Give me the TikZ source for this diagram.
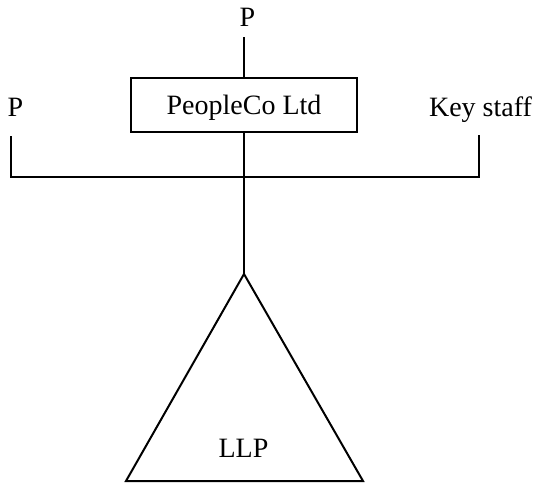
\documentclass[tikz,border=0pt]{standalone}
\usepackage{fontspec}
\setmainfont{Liberation Serif}
\begin{document}
\begin{tikzpicture}[x=1pt,y=-1pt,line width=2pt,
  lbl/.style={font=\fontsize{28}{30}\selectfont,inner sep=0pt,text depth=0pt,anchor=base},
  boxstyle/.style={draw,font=\fontsize{28}{30}\selectfont,inner sep=0pt,
    minimum width=226pt,minimum height=54pt,text height=18.5pt,text depth=0pt}]
\useasboundingbox (0,0) rectangle (537,484);
% labels
\node[lbl] (tp) at (247.5,27) {P};
\node[lbl] (lp) at (15.5,117) {P};
\node[lbl] (ks) at (480.5,116) {Key staff};
\node[boxstyle] (box) at (244,105) {PeopleCo Ltd};
% triangle
\coordinate (apex) at (244,274);
\coordinate (tl) at (126,481);
\coordinate (tr) at (363,481);
\draw (apex) -- (tl) -- (tr) -- cycle;
\node[lbl] (llp) at (243.5,457) {LLP};
% bar
\coordinate (bl) at (11,177);
\coordinate (br) at (479,177);
\draw[shorten >=9pt] (box.north) -- (box.north |- tp.south);
\draw[shorten <=18pt,shorten >=18pt] (bl |- lp.south) -- (bl) -- (br) -- (br |- ks.south);
\draw (box.south) -- (apex);
\end{tikzpicture}
\end{document}
